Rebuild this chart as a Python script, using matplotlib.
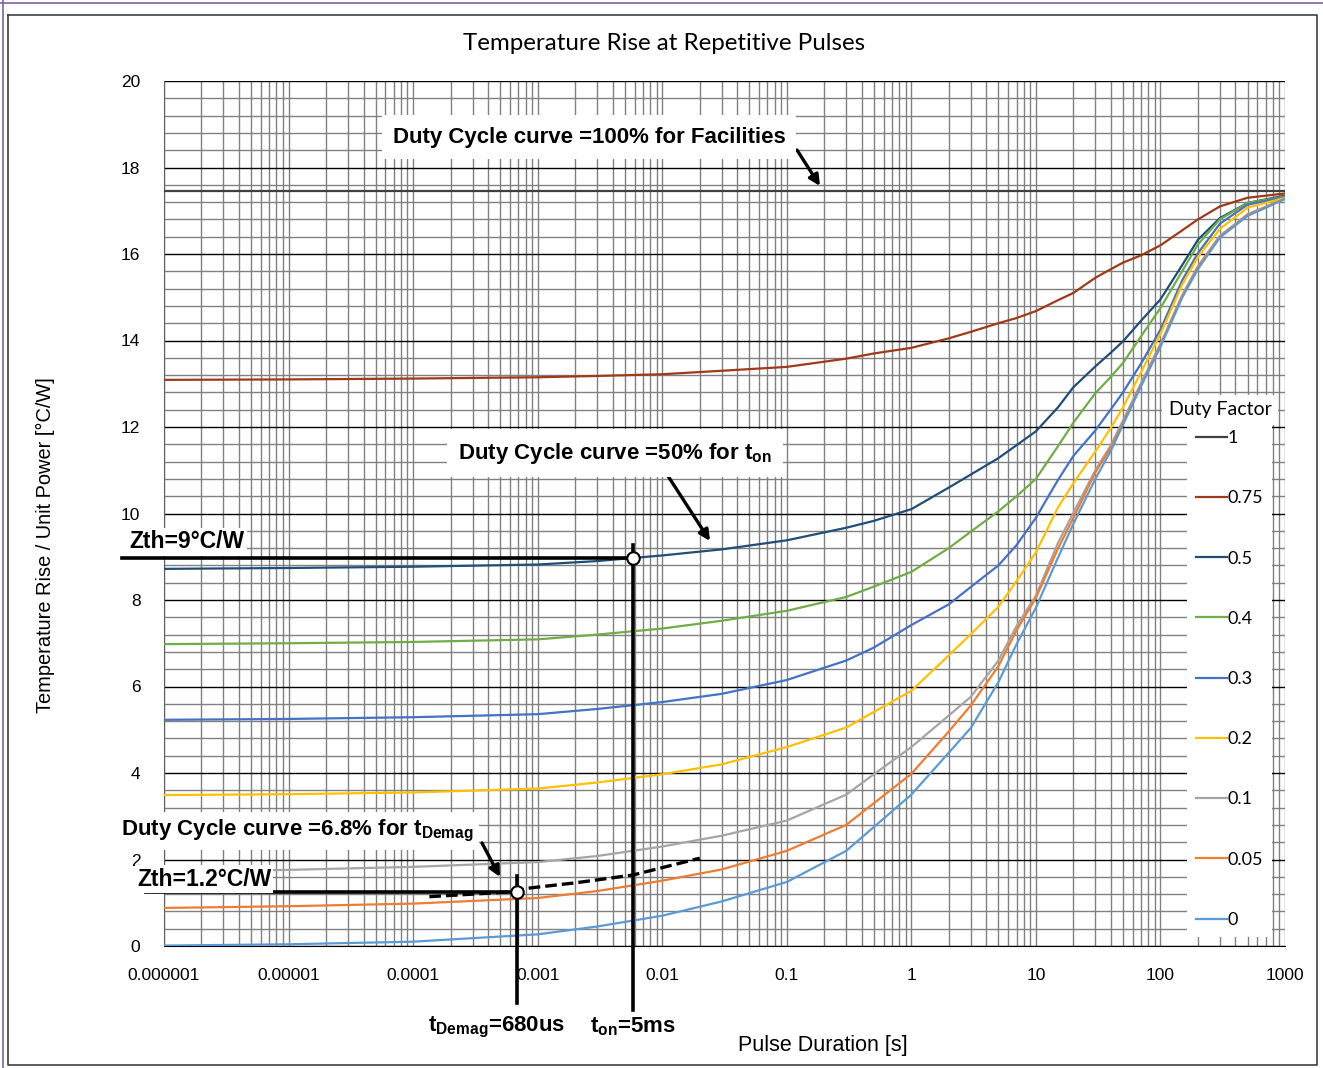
import matplotlib
matplotlib.use("Agg")
import matplotlib.pyplot as plt
from matplotlib.lines import Line2D
from matplotlib.ticker import FixedLocator, MultipleLocator, LogLocator, NullFormatter

plt.rcParams['font.family'] = ['Liberation Sans', 'DejaVu Sans']
plt.rcParams['mathtext.fontset'] = 'custom'
plt.rcParams['mathtext.rm'] = 'Liberation Sans'
plt.rcParams['mathtext.bf'] = 'Liberation Sans:bold'

W, H = 1323, 1068

# Pulse duration [s] at which the curves are read
pulse = [1e-6, 1e-5, 1e-4, 1e-3, 3e-3, 0.01, 0.03, 0.1, 0.3, 0.5, 1, 2, 3, 5, 7,
         10, 15, 20, 30, 40, 50, 70, 100, 150, 200, 300, 500, 1000]

# Zth [°C/W] for each duty factor
pulse_100 = [1e-6, 1000]
z_100 = [17.45, 17.45]
z_075 = [13.09, 13.10, 13.12, 13.15, 13.18, 13.22, 13.30, 13.39, 13.58, 13.70, 13.83,
         14.05, 14.20, 14.40, 14.52, 14.68, 14.93, 15.10, 15.45, 15.65, 15.80, 15.97,
         16.20, 16.55, 16.80, 17.10, 17.30, 17.40]
z_05 = [8.72, 8.74, 8.77, 8.82, 8.90, 9.03, 9.17, 9.38, 9.67, 9.83, 10.10,
        10.60, 10.90, 11.28, 11.58, 11.90, 12.45, 12.92, 13.40, 13.72, 13.98, 14.46,
        14.95, 15.75, 16.33, 16.83, 17.18, 17.35]
z_04 = [6.98, 7.00, 7.03, 7.09, 7.20, 7.34, 7.52, 7.75, 8.07, 8.31, 8.65,
        9.20, 9.58, 10.05, 10.40, 10.80, 11.55, 12.10, 12.78, 13.16, 13.48, 14.10,
        14.75, 15.61, 16.22, 16.80, 17.18, 17.33]
z_03 = [5.23, 5.25, 5.29, 5.36, 5.48, 5.64, 5.83, 6.15, 6.60, 6.90, 7.42,
        7.90, 8.30, 8.80, 9.27, 9.90, 10.77, 11.33, 11.92, 12.41, 12.80, 13.47,
        14.25, 15.40, 16.02, 16.70, 17.14, 17.32]
z_02 = [3.49, 3.51, 3.55, 3.64, 3.78, 3.97, 4.20, 4.60, 5.05, 5.41, 5.90,
        6.72, 7.21, 7.84, 8.44, 9.10, 10.13, 10.70, 11.43, 11.98, 12.45, 13.27,
        14.15, 15.30, 15.93, 16.58, 17.07, 17.30]
z_01 = [1.72, 1.76, 1.83, 1.94, 2.08, 2.30, 2.55, 2.90, 3.50, 3.97, 4.60,
        5.33, 5.76, 6.60, 7.40, 8.10, 9.31, 10.02, 11.00, 11.58, 12.15, 13.02,
        13.92, 15.06, 15.72, 16.42, 16.92, 17.28]
z_005 = [0.88, 0.92, 0.98, 1.11, 1.27, 1.51, 1.77, 2.20, 2.80, 3.30, 3.98,
         4.96, 5.56, 6.47, 7.30, 8.05, 9.18, 9.90, 10.95, 11.53, 12.10, 12.98,
         13.90, 15.03, 15.70, 16.40, 16.90, 17.28]
z_0 = [0.01, 0.04, 0.10, 0.27, 0.45, 0.70, 1.03, 1.48, 2.20, 2.75, 3.50,
       4.47, 5.04, 6.10, 6.98, 7.82, 8.97, 9.76, 10.80, 11.45, 12.05, 12.95,
       13.85, 15.00, 15.65, 16.38, 16.88, 17.27]

duty_labels = ['1', '0.75', '0.5', '0.4', '0.3', '0.2', '0.1', '0.05', '0']
duty_colors = ['#404040', '#9E3B16', '#1F4E79', '#70AD47', '#4472C4',
               '#FFC000', '#A5A5A5', '#ED7D31', '#5B9BD5']

# dashed 6.8% duty cycle curve
pulse_68 = [1.35e-4, 6.8e-4, 8e-4, 2e-3, 5.8e-3, 0.02]
z_68 = [1.14, 1.26, 1.33, 1.46, 1.64, 2.03]

# operating points
t_on, zth_on = 5.8e-3, 8.97
t_demag, zth_demag = 6.8e-4, 1.26

x_ticks = [1e-6, 1e-5, 1e-4, 1e-3, 1e-2, 1e-1, 1, 10, 100, 1000]
x_tick_labels = ['0.000001', '0.00001', '0.0001', '0.001', '0.01', '0.1',
                 '1', '10', '100', '1000']


def fp(px, py):
    """pixel (from top-left) to figure fraction"""
    return px / W, 1 - py / H


fig = plt.figure(figsize=(W / 100, H / 100), dpi=100)
ax = fig.add_axes([164 / W, 1 - 946 / H, (1285 - 164) / W, (946 - 81) / H])

ax.set_xscale('log')
ax.set_xlim(1e-6, 1000)
ax.set_ylim(0, 20)

series = [z_075, z_05, z_04, z_03, z_02, z_01, z_005, z_0]
handles = []
h, = ax.plot(pulse_100, z_100, color=duty_colors[0], lw=1.6, zorder=3)
handles.append(h)
for z, c in zip(series, duty_colors[1:]):
    h, = ax.plot(pulse, z, color=c, lw=1.6, zorder=3, solid_joinstyle='round')
    handles.append(h)

# grid
ax.yaxis.set_major_locator(MultipleLocator(2))
ax.yaxis.set_minor_locator(MultipleLocator(0.4))
ax.xaxis.set_major_locator(FixedLocator(x_ticks))
ax.xaxis.set_minor_locator(LogLocator(base=10, subs=range(2, 10), numticks=20))
ax.xaxis.set_minor_formatter(NullFormatter())
ax.set_xticklabels(x_tick_labels)
ax.grid(which='major', axis='y', color='black', lw=1.0, zorder=1)
ax.grid(which='minor', axis='y', color='#808080', lw=1.0, zorder=1)
ax.grid(which='both', axis='x', color='#808080', lw=1.0, zorder=1)
ax.set_axisbelow(True)
ax.tick_params(which='both', length=0, labelsize=12.5)
ax.tick_params(axis='x', pad=16)
ax.tick_params(axis='y', pad=17)
for s in ['top', 'right']:
    ax.spines[s].set_visible(False)
ax.spines['left'].set_color('#606060')
ax.spines['bottom'].set_color('black')

# operating point lines
ax.plot([4.6e-7, t_on], [zth_on, zth_on], color='black', lw=2.6, clip_on=False, zorder=4)
ax.plot([t_on, t_on], [-1.48, 9.27], color='black', lw=2.6, clip_on=False, zorder=4)
ax.plot([7.2e-7, t_demag], [zth_demag, zth_demag], color='black', lw=2.6, clip_on=False, zorder=4)
ax.plot([t_demag, t_demag], [-1.32, 1.62], color='black', lw=2.6, clip_on=False, zorder=4)
ax.plot(pulse_68, z_68, color='black', lw=2.4, ls=(0, (3.5, 1.5)), zorder=4)
ax.plot([t_on, t_demag], [zth_on, zth_demag], 'o', mfc='white', mec='black',
        ms=9, mew=1.5, zorder=6)

# legend
leg = ax.legend(handles, duty_labels, loc='upper left',
                bbox_to_anchor=fp(1187, 421), bbox_transform=fig.transFigure,
                frameon=True, fancybox=False, edgecolor='none', facecolor='white',
                framealpha=1, fontsize=13, labelspacing=2.45, handlelength=1.7,
                handletextpad=0.05, borderpad=0.5, borderaxespad=0)
leg.set_zorder(7)
for t in leg.get_texts():
    t.set_family(['Lato', 'DejaVu Sans'])
fig.text(*fp(1220, 410), 'Duty Factor', ha='center', va='center', fontsize=14,
         family=['Lato', 'DejaVu Sans'],
         bbox=dict(boxstyle='square,pad=0.35', fc='white', ec='none'), zorder=8)

# titles
fig.text(*fp(664, 43), 'Temperature Rise at Repetitive Pulses', ha='center', va='center',
         fontsize=17.4, family=['Lato', 'DejaVu Sans'])
fig.text(*fp(45, 545), 'Temperature Rise / Unit Power [°C/W]', ha='center', va='center',
         rotation=90, fontsize=14.4)
fig.text(*fp(823, 1045), 'Pulse Duration [s]', ha='center', va='center', fontsize=15.5)

# annotations
fs = 16
box = dict(boxstyle='square,pad=0.5', fc='white', ec='none')
fig.text(*fp(589, 137), 'Duty Cycle curve =100% for Facilities', ha='center', va='center',
         fontsize=fs, weight='bold', bbox=box, zorder=8)
fig.text(*fp(615, 453), r'Duty Cycle curve =50% for t$_{\mathbf{on}}$', ha='center',
         va='center', fontsize=fs, weight='bold', bbox=box, zorder=8)
fig.text(*fp(297, 831), r'Duty Cycle curve =6.8% for t$_{\mathbf{Demag}}$', ha='center',
         va='center', fontsize=fs, weight='bold',
         bbox=dict(boxstyle='square,pad=0.25', fc='white', ec='none'), zorder=8)
fig.text(*fp(187, 542), 'Zth=9°C/W', ha='center', va='center', fontsize=16.5, weight='bold',
         bbox=dict(boxstyle='square,pad=0.1', fc='white', ec='none'), zorder=8)
fig.text(*fp(204, 879), 'Zth=1.2°C/W', ha='center', va='center', fontsize=16.5, weight='bold',
         bbox=dict(boxstyle='square,pad=0.1', fc='white', ec='none'), zorder=8)
fig.text(*fp(497, 1027), r't$_{\mathbf{Demag}}$=680us', ha='center', va='center',
         fontsize=fs, weight='bold')
fig.text(*fp(633, 1027), r't$_{\mathbf{on}}$=5ms', ha='center', va='center',
         fontsize=fs, weight='bold')

arrow = dict(arrowstyle='-|>', lw=2.4, color='black', mutation_scale=16, shrinkA=0, shrinkB=0)
for tail, head in [((797, 150), (820, 186)), ((668, 476), (710, 541)), ((482, 843), (500, 877))]:
    ax.annotate('', xy=(head[0], H - head[1]), xytext=(tail[0], H - tail[1]),
                xycoords='figure pixels', textcoords='figure pixels',
                arrowprops=arrow, zorder=8, annotation_clip=False)

# chart frame
fig.add_artist(Line2D([0, 1], [1 - 3 / H] * 2, color='#8064A2', lw=1.2))
fig.add_artist(Line2D([3 / W] * 2, [0, 1], color='#8064A2', lw=1.2))
fig.add_artist(Line2D([8 / W, 1317 / W, 1317 / W, 8 / W, 8 / W],
                      [1 - 15 / H, 1 - 15 / H, 1 - 1065 / H, 1 - 1065 / H, 1 - 15 / H],
                      color='#404040', lw=1.2))

fig.savefig('out.png', dpi=100)
